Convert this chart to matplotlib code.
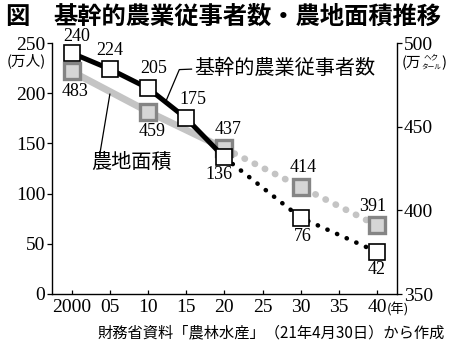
import numpy as np
import matplotlib
matplotlib.use("Agg")
import matplotlib.pyplot as plt

plt.rcParams["font.family"] = ["Liberation Serif", "Noto Sans CJK JP", "DejaVu Sans"]
JP = ["Noto Sans CJK JP", "DejaVu Sans"]

# data
years_workers = [2000, 2005, 2010, 2015, 2020, 2030, 2040]
workers = [240, 224, 205, 175, 136, 76, 42]  # 万人
years_land = [2000, 2010, 2020, 2030, 2040]
land = [483, 459, 437, 414, 391]  # 万ha
x_ticks = [2000, 2005, 2010, 2015, 2020, 2025, 2030, 2035, 2040]
x_tick_labels = ["2000", "05", "10", "15", "20", "25", "30", "35", "40"]

# label offsets (points) for value labels
off_workers = [(3.6, 11.7), (0, 13.7), (3.8, 14.5), (5, 13.4), (-4, -12.2), (1.6, -13.4), (0, -12.5)]
off_land = [(2.4, -14.5), (2.9, -14.2), (3, 13.7), (1.6, 14), (-2.9, 13.7)]

W, H = 450, 355
fig = plt.figure(figsize=(4.5, 3.55), dpi=100)
ax = fig.add_axes([52.3 / W, 1 - 294 / H, (396.7 - 52.3) / W, (294 - 43) / H])
ax2 = ax.twinx()
ax.set_zorder(ax2.get_zorder() + 1)
ax.patch.set_visible(False)

ax.set_xlim(1997.46, 2042.58)
ax.set_ylim(0, 250)
ax2.set_ylim(350, 500)

grey_line = "#c4c4c4"
# farmland (right axis)
n_solid = 3
ax2.plot(years_land[:n_solid], land[:n_solid], color=grey_line, lw=5, solid_capstyle="butt", zorder=1)
ax2.plot(years_land[n_solid - 1:], land[n_solid - 1:], color=grey_line, lw=4.8,
         linestyle=(0, (0.05, 1.65)), dash_capstyle="round", zorder=1)
ax2.plot(years_land, land, linestyle="none", marker="s", ms=11, mfc="#d6d6d6",
         mec="#858585", mew=2.4, zorder=3)

# workers (left axis)
n_solid_w = 5
ax.plot(years_workers[:n_solid_w], workers[:n_solid_w], color="black", lw=3.6, zorder=2)
ax.plot(years_workers[n_solid_w - 1:], workers[n_solid_w - 1:], color="black", lw=3.3,
        linestyle=(0, (0.05, 2.25)), dash_capstyle="round", zorder=2)
ax.plot(years_workers, workers, linestyle="none", marker="s", ms=12, mfc="white",
        mec="black", mew=1.2, zorder=4)

for xv, yv, off in zip(years_workers, workers, off_workers):
    ax.annotate(str(yv), (xv, yv), xytext=off, textcoords="offset points",
                ha="center", va="center", fontsize=13)
for xv, yv, off in zip(years_land, land, off_land):
    ax2.annotate(str(yv), (xv, yv), xytext=off, textcoords="offset points",
                 ha="center", va="center", fontsize=13)

# series labels with leader lines
ax.text(2016.0, 225, "基幹的農業従事者数", family=JP, fontsize=14.5, ha="left", va="center")
ax.plot([2015.7, 2014.1, 2012.4], [224, 223.5, 193], color="black", lw=0.9)
ax.text(2007.8, 131, "農地面積", family=JP, fontsize=14.5, ha="center", va="center")
ax.plot([2005.0, 2003.7], [199, 140], color="black", lw=0.9)

# spines / ticks
ax.spines["top"].set_visible(False)
ax.spines["right"].set_visible(False)
ax2.spines["top"].set_visible(False)
ax2.spines["left"].set_visible(False)
ax2.spines["bottom"].set_visible(False)
for sp in [ax.spines["left"], ax.spines["bottom"], ax2.spines["right"]]:
    sp.set_linewidth(1.0)

ax.set_xticks(x_ticks)
ax.set_xticklabels(x_tick_labels)
ax.set_yticks(np.arange(0, 251, 50))
ax2.set_yticks(np.arange(350, 501, 50))
ax.tick_params(axis="x", direction="in", length=3, width=0.9, pad=3.5, labelsize=14)
ax.tick_params(axis="y", direction="out", length=3.6, width=0.9, pad=1.5, labelsize=14)
ax2.tick_params(axis="y", direction="out", length=3.6, width=0.9, pad=1.5, labelsize=14)

# units
fig.text(26 / W, 1 - 61 / H, "(万人)", family=JP, fontsize=10.5, ha="center", va="center")
fig.text(421 / W, 1 - 63 / H, "(万", family=JP, fontsize=10.5, ha="right", va="center")
fig.text(431 / W, 1 - 57.5 / H, "ヘク", family=JP, fontsize=5.5, ha="center", va="center")
fig.text(431 / W, 1 - 68 / H, "タール", family=JP, fontsize=4.8, ha="center", va="center")
fig.text(441 / W, 1 - 63 / H, ")", family=JP, fontsize=10.5, ha="left", va="center")
fig.text(387 / W, 1 - 309 / H, "(年)", family=JP, fontsize=9.5, ha="left", va="center")

# title and source
fig.text(5 / W, 1 - 17 / H, "図", family=JP, fontsize=17.5, fontweight="bold", ha="left", va="center")
fig.text(53 / W, 1 - 17 / H, "基幹的農業従事者数・農地面積推移", family=JP, fontsize=17.5,
         fontweight="bold", ha="left", va="center")
fig.text(445 / W, 1 - 333 / H, "財務省資料「農林水産」（21年4月30日）から作成", family=JP,
         fontsize=11, ha="right", va="center")

fig.savefig("out.png", dpi=100)
